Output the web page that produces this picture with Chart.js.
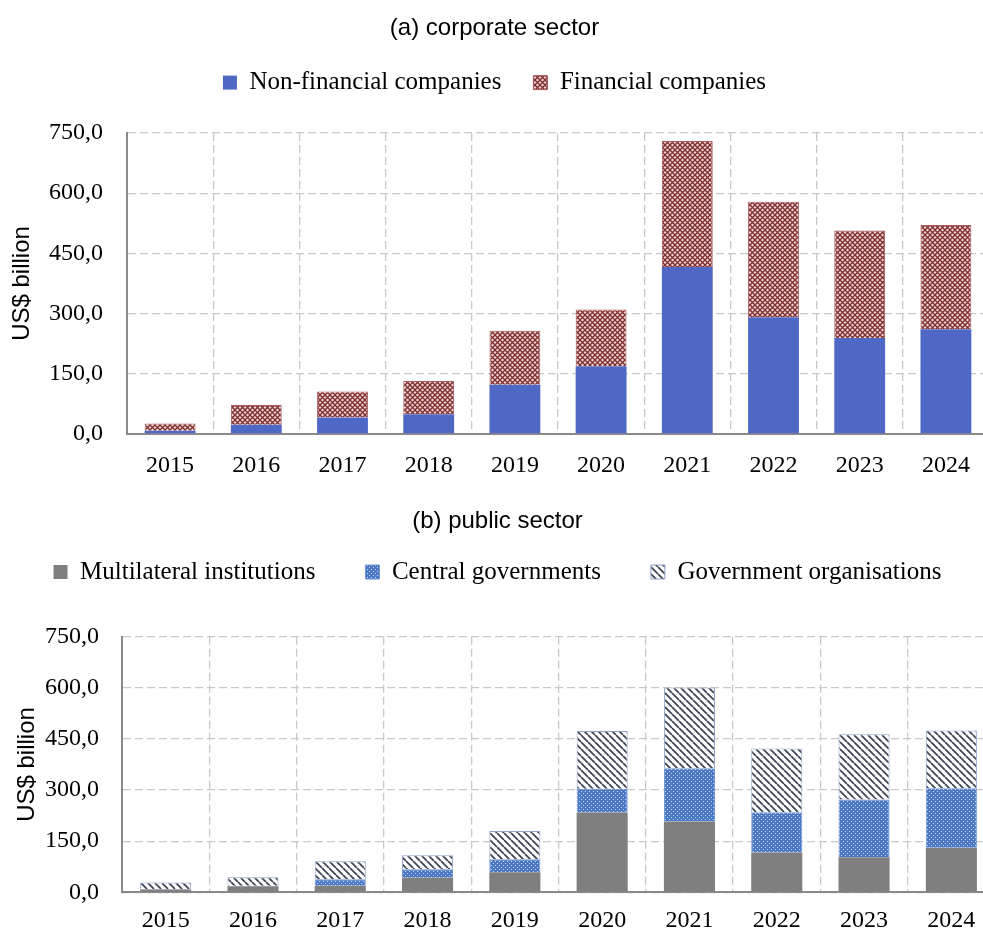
<!DOCTYPE html>
<html>
<head>
<meta charset="utf-8">
<script src="https://cdn.jsdelivr.net/npm/chart.js@4.4.1/dist/chart.umd.min.js"></script>
<style>
  body { margin: 0; background: #fff; overflow: hidden; }
  #top { position: absolute; left: 0; top: 0; }
  #bottom { position: absolute; left: 0; top: 490px; }
</style>
</head>
<body>
<canvas id="top" width="1000" height="490"></canvas>
<canvas id="bottom" width="1000" height="445"></canvas>
<script>
'use strict';
let years = ['2015', '2016', '2017', '2018', '2019', '2020', '2021', '2022', '2023', '2024'];
let yTicks = [0, 150, 300, 450, 600, 750];

// (a) corporate sector, US$ billion
let nonFinancial = [8, 23, 41, 49, 123, 169, 416, 291, 239, 261];
let financial = [18, 49, 65, 83, 134, 141, 314, 288, 268, 260];

// (b) public sector, US$ billion
let multilateral = [8, 18, 19, 43, 59, 234, 208, 117, 103, 131];
let centralGov = [2, 1, 19, 25, 38, 70, 156, 118, 169, 174];
let govOrgs = [19, 25, 53, 41, 83, 169, 237, 187, 192, 170];

let serif = "'Liberation Serif', 'Times New Roman', serif";
let sans = "'Liberation Sans', Arial, sans-serif";

function makePattern(size, paint) {
    let c = document.createElement('canvas');
    c.width = size;
    c.height = size;
    let g = c.getContext('2d');
    paint(g, size);
    return g.createPattern(c, 'repeat');
}

let crossHatch = makePattern(5, function (g, s) {
    g.fillStyle = '#f0d4d4';
    g.fillRect(0, 0, s, s);
    g.strokeStyle = '#7e2e2e';
    g.lineWidth = 1.3;
    g.beginPath();
    g.moveTo(0, 0); g.lineTo(s, s);
    g.moveTo(s, 0); g.lineTo(0, s);
    g.stroke();
});

let dotted = makePattern(4, function (g, s) {
    g.fillStyle = '#4a78c6';
    g.fillRect(0, 0, s, s);
    g.fillStyle = '#cddcf4';
    g.fillRect(1, 1, 1, 1);
    g.fillRect(3, 3, 1, 1);
});

let stripes = makePattern(7, function (g, s) {
    g.fillStyle = '#ffffff';
    g.fillRect(0, 0, s, s);
    g.strokeStyle = '#3f4656';
    g.lineWidth = 1.8;
    g.beginPath();
    for (let k = -s; k <= s; k += s) {
        g.moveTo(k, 0);
        g.lineTo(k + s, s);
    }
    g.stroke();
});

function fmt(v) {
    return v.toFixed(1).replace('.', ',');
}

function buildOptions(o) {
    return {
        responsive: false,
        animation: false,
        layout: { padding: { left: 0, right: o.right, top: 0, bottom: 0 } },
        plugins: {
            title: {
                display: true,
                text: o.title,
                color: '#000',
                font: { family: sans, size: 24, weight: 'normal' },
                padding: { top: o.titleTop, bottom: o.titleBottom }
            },
            subtitle: {
                display: true,
                text: '',
                weight: 500,
                font: { size: 1, lineHeight: 1 },
                padding: { top: 0, bottom: o.gap }
            },
            legend: {
                position: 'top',
                labels: {
                    color: '#000',
                    font: { family: serif, size: 25 },
                    boxWidth: 14,
                    boxHeight: 14,
                    padding: o.legendPad
                }
            },
            tooltip: { enabled: false }
        },
        scales: {
            x: {
                stacked: true,
                grid: { color: '#c9c9c9', lineWidth: 1.3, drawTicks: false, offset: true },
                border: { display: true, color: '#8a8a8a', width: 2, dash: [8, 4] },
                ticks: { color: '#000', font: { family: serif, size: 24 }, padding: o.xPad },
                afterFit: function (scale) { scale.height = o.xHeight; }
            },
            y: {
                stacked: true,
                min: 0,
                max: yTicks[yTicks.length - 1],
                grid: { color: '#c9c9c9', lineWidth: 1.3, drawTicks: false },
                border: { display: true, color: '#8a8a8a', width: 2, dash: [8, 4] },
                afterBuildTicks: function (scale) {
                    scale.ticks = yTicks.map(function (v) { return { value: v }; });
                },
                ticks: {
                    color: '#000',
                    font: { family: serif, size: 24 },
                    padding: o.yPad,
                    callback: function (v) { return fmt(v); }
                },
                title: {
                    display: true,
                    text: 'US$ billion',
                    color: '#000',
                    font: { family: sans, size: 24 },
                    padding: { top: o.yTitleTop, bottom: 0 }
                },
                afterFit: function (scale) { scale.width = o.yWidth; }
            }
        }
    };
}

new Chart(document.getElementById('top'), {
    type: 'bar',
    data: {
        labels: years,
        datasets: [{
            label: 'Non-financial companies',
            data: nonFinancial,
            backgroundColor: '#5068c5',
            borderColor: '#5068c5',
            borderWidth: 0,
            categoryPercentage: 1,
            barPercentage: 0.59
        }, {
            label: 'Financial companies',
            data: financial,
            backgroundColor: crossHatch,
            borderColor: '#a85a5a',
            borderWidth: 1,
            categoryPercentage: 1,
            barPercentage: 0.59
        }]
    },
    options: buildOptions({
        title: '(a) corporate sector',
        right: 11, titleTop: 14, titleBottom: -4.7, legendPad: 32, gap: 26.9,
        xHeight: 56, xPad: 17, yPad: 24, yWidth: 127, yTitleTop: 7.6
    })
});

new Chart(document.getElementById('bottom'), {
    type: 'bar',
    data: {
        labels: years,
        datasets: [{
            label: 'Multilateral institutions',
            data: multilateral,
            backgroundColor: '#7f7f7f',
            borderColor: '#7f7f7f',
            borderWidth: 0,
            categoryPercentage: 1,
            barPercentage: 0.585
        }, {
            label: 'Central governments',
            data: centralGov,
            backgroundColor: dotted,
            borderColor: '#6f93d2',
            borderWidth: 1,
            categoryPercentage: 1,
            barPercentage: 0.585
        }, {
            label: 'Government organisations',
            data: govOrgs,
            backgroundColor: stripes,
            borderColor: '#8fa2c6',
            borderWidth: 1,
            categoryPercentage: 1,
            barPercentage: 0.585
        }]
    },
    options: buildOptions({
        title: '(b) public sector',
        right: 5, titleTop: 16.6, titleBottom: -25.9, legendPad: 50, gap: 41.2,
        xHeight: 42.7, xPad: 14, yPad: 23, yWidth: 122, yTitleTop: 13
    })
});
</script>
</body>
</html>
